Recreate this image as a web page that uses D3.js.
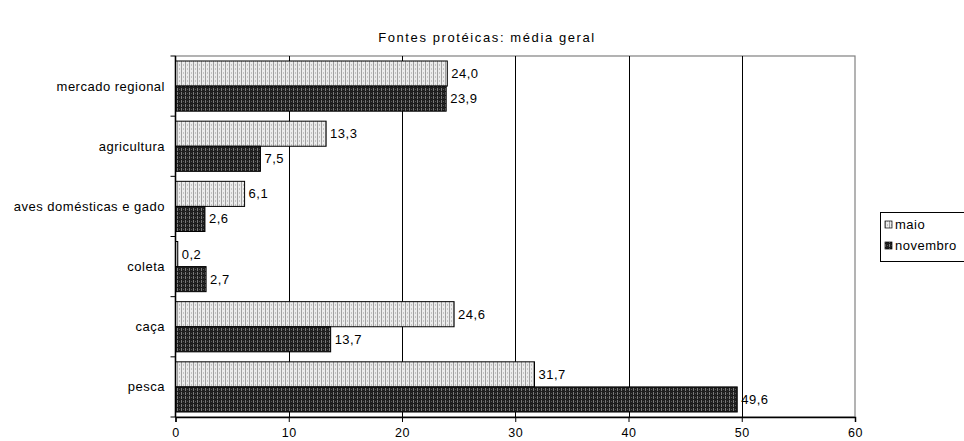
<!DOCTYPE html>
<html><head><meta charset="utf-8">
<script src="https://cdn.jsdelivr.net/npm/d3@7"></script>
<style>body{margin:0;background:#fff}svg{display:block;font-family:"Liberation Sans",Arial,sans-serif}</style>
</head><body><svg id="c" width="964" height="441"></svg>
<script>
const categories = ["mercado regional","agricultura","aves domésticas e gado","coleta","caça","pesca"];
const maio = [24.0,13.3,6.1,0.2,24.6,31.7];
const novembro = [23.9,7.5,2.6,2.7,13.7,49.6];
const seriesNames = ["maio","novembro"];
const xTicks = [0,10,20,30,40,50,60];
const title = "Fontes protéicas: média geral";

(function(){
const svg = d3.select("#c");
const defs = svg.append("defs");
const p1 = defs.append("pattern").attr("id","pMaio").attr("width",4).attr("height",4).attr("patternUnits","userSpaceOnUse");
p1.append("rect").attr("width",4).attr("height",4).attr("fill","#ececec");
p1.append("rect").attr("x",1).attr("width",1).attr("height",4).attr("fill","#a0a0a0");
p1.append("rect").attr("x",3).attr("y",0).attr("width",1).attr("height",2).attr("fill","#c4c4c4");
const p2 = defs.append("pattern").attr("id","pNov").attr("width",4).attr("height",4).attr("patternUnits","userSpaceOnUse");
p2.append("rect").attr("width",4).attr("height",4).attr("fill","#1e1e1e");
p2.append("rect").attr("x",1).attr("width",1).attr("height",3).attr("fill","#7a7a7a");
p2.append("rect").attr("x",3).attr("y",1).attr("width",1).attr("height",1).attr("fill","#555");

const pL = 175.5, pR = 855, pT = 56, pB = 417;
const FS = 13, LS = 0.5;
const x = d3.scaleLinear().domain([0,60]).range([pL,pR]);
const y = d3.scaleBand().domain(categories).range([pT,pB]).paddingInner(0.166).paddingOuter(0.083);
const yi = d3.scaleBand().domain(seriesNames).range([0,y.bandwidth()]);

svg.append("text").attr("x",487).attr("y",42).attr("text-anchor","middle").attr("font-size",13).attr("letter-spacing",1.6).text(title);

svg.append("rect").attr("x",pL).attr("y",pT).attr("width",pR-pL).attr("height",pB-pT)
  .attr("fill","none").attr("stroke","#808080").attr("stroke-width",1.2);
svg.append("g").selectAll("line").data(xTicks.filter(d=>d>0&&d<60)).join("line")
  .attr("x1",d=>Math.round(x(d))+0.5).attr("x2",d=>Math.round(x(d))+0.5).attr("y1",pT).attr("y2",pB)
  .attr("stroke","#000").attr("stroke-width",1);

const data = categories.map((c,i)=>({c, vals:[{s:"maio",v:maio[i]},{s:"novembro",v:novembro[i]}]}));
const g = svg.append("g");
data.forEach(d=>{
  d.vals.forEach(e=>{
    const yy = y(d.c)+yi(e.s);
    g.append("rect").attr("x",x(0)).attr("y",yy).attr("width",x(e.v)-x(0)).attr("height",yi.bandwidth())
      .attr("fill",e.s==="maio"?"url(#pMaio)":"url(#pNov)").attr("stroke","#000").attr("stroke-width",1);
    g.append("text").attr("x",x(e.v)+4).attr("y",yy+yi.bandwidth()/2+4.5).attr("font-size",FS).attr("letter-spacing",LS)
      .text(d3.format(".1f")(e.v).replace(".",","));
  });
});

const xAxis = d3.axisBottom(x).tickValues(xTicks).tickSize(5).tickFormat(d=>d);
const xg = svg.append("g").attr("transform",`translate(0,${pB})`).call(xAxis);
xg.select(".domain").attr("stroke","#000").attr("stroke-width",1.5);
xg.selectAll("text").attr("font-size",12.5).attr("letter-spacing",LS).attr("font-family","Liberation Sans, Arial, sans-serif").attr("dy","0.95em").attr("fill","#000");

svg.append("line").attr("x1",pL).attr("x2",pL).attr("y1",pT).attr("y2",pB).attr("stroke","#000").attr("stroke-width",1.5);
const step = y.step();
svg.append("g").selectAll("line").data(d3.range(categories.length+1)).join("line")
  .attr("x1",pL-5).attr("x2",pL).attr("y1",i=>pT+i*step).attr("y2",i=>pT+i*step).attr("stroke","#000");
svg.append("g").selectAll("text").data(categories).join("text")
  .attr("x",165).attr("y",d=>y(d)+y.bandwidth()/2+4.5).attr("text-anchor","end").attr("font-size",FS).attr("letter-spacing",LS).text(d=>d);

const lg = svg.append("g");
lg.append("rect").attr("x",880.5).attr("y",212.5).attr("width",90).attr("height",49).attr("fill","#fff").attr("stroke","#000");
seriesNames.forEach((s,i)=>{
  const yy = 221 + i*21;
  lg.append("rect").attr("x",885).attr("y",yy).attr("width",7).attr("height",7)
    .attr("fill",s==="maio"?"url(#pMaio)":"url(#pNov)").attr("stroke","#000").attr("stroke-width",0.7);
  lg.append("text").attr("x",895).attr("y",yy+8).attr("font-size",FS).attr("letter-spacing",LS).text(s);
});
})();
</script></body></html>
